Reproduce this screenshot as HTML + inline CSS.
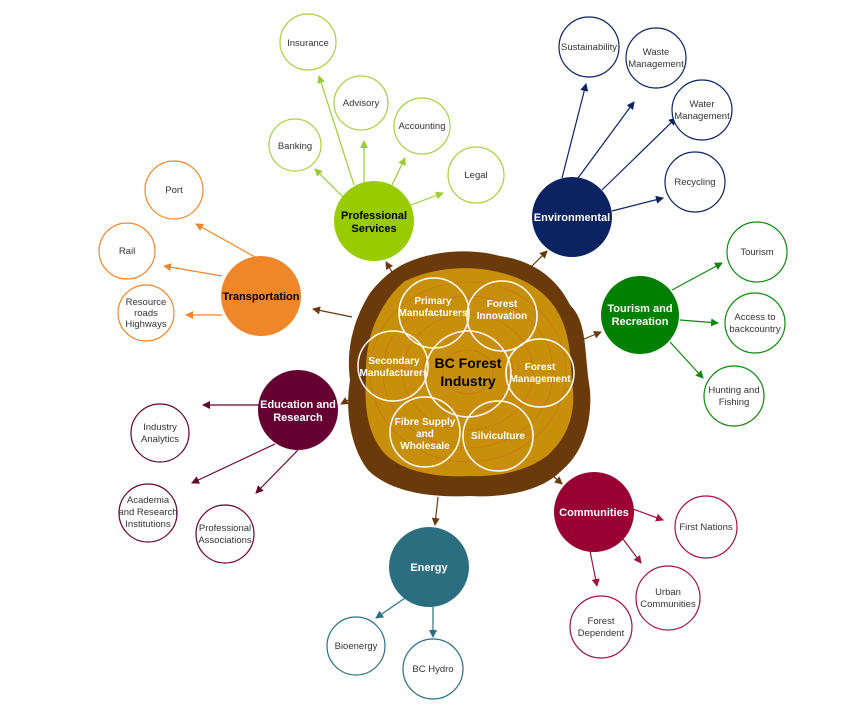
<!DOCTYPE html>
<html><head><meta charset="utf-8"><style>
html,body{margin:0;padding:0;background:#fff;}
svg{display:block;font-family:"Liberation Sans",sans-serif;}
.l{font-size:9.5px;fill:#333;text-anchor:middle;}
.h{font-size:11px;font-weight:bold;text-anchor:middle;}
.i{font-size:10px;font-weight:bold;fill:#fff;text-anchor:middle;}
</style></head><body>
<svg width="866" height="717" viewBox="0 0 866 717" xmlns="http://www.w3.org/2000/svg">
<defs>
<marker id="mg" markerWidth="8" markerHeight="8" refX="7" refY="4" orient="auto" markerUnits="userSpaceOnUse"><path d="M0,0 L8,4 L0,8z" fill="#9acd32"/></marker>
<marker id="mn" markerWidth="8" markerHeight="8" refX="7" refY="4" orient="auto" markerUnits="userSpaceOnUse"><path d="M0,0 L8,4 L0,8z" fill="#0b2361"/></marker>
<marker id="mo" markerWidth="8" markerHeight="8" refX="7" refY="4" orient="auto" markerUnits="userSpaceOnUse"><path d="M0,0 L8,4 L0,8z" fill="#f0862a"/></marker>
<marker id="mt" markerWidth="8" markerHeight="8" refX="7" refY="4" orient="auto" markerUnits="userSpaceOnUse"><path d="M0,0 L8,4 L0,8z" fill="#118811"/></marker>
<marker id="mm" markerWidth="8" markerHeight="8" refX="7" refY="4" orient="auto" markerUnits="userSpaceOnUse"><path d="M0,0 L8,4 L0,8z" fill="#660033"/></marker>
<marker id="mc" markerWidth="8" markerHeight="8" refX="7" refY="4" orient="auto" markerUnits="userSpaceOnUse"><path d="M0,0 L8,4 L0,8z" fill="#a0123f"/></marker>
<marker id="me" markerWidth="8" markerHeight="8" refX="7" refY="4" orient="auto" markerUnits="userSpaceOnUse"><path d="M0,0 L8,4 L0,8z" fill="#2a6e80"/></marker>
<marker id="mb" markerWidth="8" markerHeight="8" refX="7" refY="4" orient="auto" markerUnits="userSpaceOnUse"><path d="M0,0 L8,4 L0,8z" fill="#6b3a10"/></marker>
</defs>

<g stroke-width="1.2" fill="none">
<g stroke="#9acd32">
<line x1="354" y1="185" x2="319" y2="76" marker-end="url(#mg)"/>
<line x1="364" y1="183" x2="364" y2="141" marker-end="url(#mg)"/>
<line x1="392" y1="185" x2="405" y2="158" marker-end="url(#mg)"/>
<line x1="343" y1="197" x2="315" y2="169" marker-end="url(#mg)"/>
<line x1="411" y1="205" x2="443" y2="193" marker-end="url(#mg)"/>
</g>
<g stroke="#0b2361">
<line x1="562" y1="178" x2="586" y2="84" marker-end="url(#mn)"/>
<line x1="578" y1="178" x2="634" y2="102" marker-end="url(#mn)"/>
<line x1="602" y1="190" x2="676" y2="118" marker-end="url(#mn)"/>
<line x1="612" y1="211" x2="663" y2="198" marker-end="url(#mn)"/>
</g>
<g stroke="#f0862a">
<line x1="255" y1="257" x2="196" y2="224" marker-end="url(#mo)"/>
<line x1="222" y1="276" x2="164" y2="266" marker-end="url(#mo)"/>
<line x1="222" y1="315" x2="186" y2="315" marker-end="url(#mo)"/>
</g>
<g stroke="#118811">
<line x1="672" y1="290" x2="722" y2="263" marker-end="url(#mt)"/>
<line x1="680" y1="320" x2="718" y2="323" marker-end="url(#mt)"/>
<line x1="670" y1="342" x2="703" y2="378" marker-end="url(#mt)"/>
</g>
<g stroke="#660033">
<line x1="259" y1="405" x2="203" y2="405" marker-end="url(#mm)"/>
<line x1="275" y1="444" x2="192" y2="483" marker-end="url(#mm)"/>
<line x1="298" y1="450" x2="256" y2="493" marker-end="url(#mm)"/>
</g>
<g stroke="#a0123f">
<line x1="633" y1="509" x2="663" y2="520" marker-end="url(#mc)"/>
<line x1="623" y1="539" x2="641" y2="563" marker-end="url(#mc)"/>
<line x1="590" y1="551" x2="597" y2="586" marker-end="url(#mc)"/>
</g>
<g stroke="#2a6e80">
<line x1="405" y1="598" x2="376" y2="618" marker-end="url(#me)"/>
<line x1="433" y1="607" x2="433" y2="637" marker-end="url(#me)"/>
</g>
<g stroke="#6b3a10">
<line x1="352" y1="317" x2="313" y2="309" marker-end="url(#mb)"/>
<line x1="392" y1="272" x2="386" y2="262" marker-end="url(#mb)"/>
<line x1="528" y1="270" x2="547" y2="251" marker-end="url(#mb)"/>
<line x1="584" y1="339" x2="601" y2="332" marker-end="url(#mb)"/>
<line x1="352" y1="398" x2="341" y2="404" marker-end="url(#mb)"/>
<line x1="544" y1="468" x2="562" y2="484" marker-end="url(#mb)"/>
<line x1="438" y1="497" x2="435" y2="525" marker-end="url(#mb)"/>
</g>
</g>

<path d="M400,266 C430,250 470,248 500,256 C530,260 556,276 570,305 C588,322 584,355 590,390 C592,420 585,452 560,472 C540,492 500,498 470,496 C430,498 390,492 368,470 C350,447 345,410 350,380 C346,350 353,320 370,293 C380,280 390,272 400,266z" fill="#6b3a0a"/>
<path d="M405,281 C435,267 470,265 498,272 C525,278 548,292 560,316 C572,340 570,365 573,390 C575,415 567,438 548,455 C528,471 498,477 470,476 C435,478 402,471 385,454 C368,435 364,408 366,380 C365,352 370,327 385,304 C391,294 398,287 405,281z" fill="#c8900a"/>
<g fill="none" stroke="#c96a18" stroke-width="0.8" opacity="0.7">
<ellipse cx="468" cy="372" rx="25" ry="22"/>
<ellipse cx="468" cy="372" rx="45" ry="40"/>
<ellipse cx="468" cy="372" rx="65" ry="58"/>
<ellipse cx="468" cy="372" rx="85" ry="76"/>
<ellipse cx="468" cy="372" rx="98" ry="90"/>
</g>
<g fill="none" stroke="#fff" stroke-width="1.5">
<circle cx="434" cy="313" r="35"/>
<circle cx="502" cy="316" r="35"/>
<circle cx="393" cy="366" r="35"/>
<circle cx="540" cy="373" r="34"/>
<circle cx="425" cy="432" r="35"/>
<circle cx="498" cy="436" r="35"/>
<circle cx="468" cy="374" r="43"/>
</g>
<g class="i">
<text x="433" y="304">Primary</text><text x="433" y="316">Manufacturers</text>
<text x="502" y="307">Forest</text><text x="502" y="319">Innovation</text>
<text x="394" y="364">Secondary</text><text x="394" y="376">Manufacturers</text>
<text x="540" y="370">Forest</text><text x="540" y="382">Management</text>
<text x="425" y="425">Fibre Supply</text><text x="425" y="437">and</text><text x="425" y="449">Wholesale</text>
<text x="498" y="439">Silviculture</text>
</g>
<text x="468" y="368" style="font-size:14px;font-weight:bold;text-anchor:middle">BC Forest</text>
<text x="468" y="386" style="font-size:14px;font-weight:bold;text-anchor:middle">Industry</text>

<circle cx="374" cy="221" r="40" fill="#99cc00"/>
<text class="h" x="374" y="219">Professional</text><text class="h" x="374" y="232">Services</text>
<circle cx="572" cy="217" r="40" fill="#0b2361"/>
<text class="h" x="572" y="221" fill="#fff">Environmental</text>
<circle cx="261" cy="296" r="40" fill="#f0862a"/>
<text class="h" x="261" y="300">Transportation</text>
<circle cx="640" cy="315" r="39" fill="#008000"/>
<text class="h" x="640" y="312" fill="#fff">Tourism and</text><text class="h" x="640" y="325" fill="#fff">Recreation</text>
<circle cx="298" cy="410" r="40" fill="#660033"/>
<text class="h" x="298" y="408" fill="#fff">Education and</text><text class="h" x="298" y="421" fill="#fff">Research</text>
<circle cx="594" cy="512" r="40" fill="#990033"/>
<text class="h" x="594" y="516" fill="#fff">Communities</text>
<circle cx="429" cy="567" r="40" fill="#2a6e80"/>
<text class="h" x="429" y="571" fill="#fff">Energy</text>

<g fill="#fff" stroke-width="1.2">
<g stroke="#a8cf45">
<circle cx="308" cy="42" r="28"/><circle cx="361" cy="103" r="27"/><circle cx="422" cy="126" r="28"/><circle cx="295" cy="145" r="26"/><circle cx="476" cy="175" r="28"/>
</g>
<g stroke="#0b2361">
<circle cx="589" cy="47" r="30"/><circle cx="656" cy="58" r="30"/><circle cx="702" cy="110" r="30"/><circle cx="695" cy="182" r="30"/>
</g>
<g stroke="#f0862a">
<circle cx="174" cy="190" r="29"/><circle cx="127" cy="251" r="28"/><circle cx="146" cy="313" r="28"/>
</g>
<g stroke="#118811">
<circle cx="757" cy="252" r="30"/><circle cx="755" cy="323" r="30"/><circle cx="734" cy="396" r="30"/>
</g>
<g stroke="#660033">
<circle cx="160" cy="433" r="29"/><circle cx="148" cy="513" r="29"/><circle cx="225" cy="534" r="29"/>
</g>
<g stroke="#a0123f">
<circle cx="706" cy="527" r="31"/><circle cx="668" cy="598" r="32"/><circle cx="601" cy="627" r="31"/>
</g>
<g stroke="#2a6e80">
<circle cx="356" cy="646" r="29"/><circle cx="433" cy="669" r="30"/>
</g>
</g>
<g class="l">
<text x="308" y="46">Insurance</text>
<text x="361" y="106">Advisory</text>
<text x="422" y="129">Accounting</text>
<text x="295" y="149">Banking</text>
<text x="476" y="178">Legal</text>
<text x="589" y="50">Sustainability</text>
<text x="656" y="55">Waste</text><text x="656" y="67">Management</text>
<text x="702" y="107">Water</text><text x="702" y="119">Management</text>
<text x="695" y="185">Recycling</text>
<text x="174" y="193">Port</text>
<text x="127" y="254">Rail</text>
<text x="146" y="305">Resource</text><text x="146" y="316">roads</text><text x="146" y="327">Highways</text>
<text x="757" y="255">Tourism</text>
<text x="755" y="320">Access to</text><text x="755" y="332">backcountry</text>
<text x="734" y="393">Hunting and</text><text x="734" y="405">Fishing</text>
<text x="160" y="430">Industry</text><text x="160" y="442">Analytics</text>
<text x="148" y="503">Academia</text><text x="148" y="515">and Research</text><text x="148" y="527">Institutions</text>
<text x="225" y="531">Professional</text><text x="225" y="543">Associations</text>
<text x="706" y="530">First Nations</text>
<text x="668" y="595">Urban</text><text x="668" y="607">Communities</text>
<text x="601" y="624">Forest</text><text x="601" y="636">Dependent</text>
<text x="356" y="649">Bioenergy</text>
<text x="433" y="672">BC Hydro</text>
</g>
</svg>
</body></html>
